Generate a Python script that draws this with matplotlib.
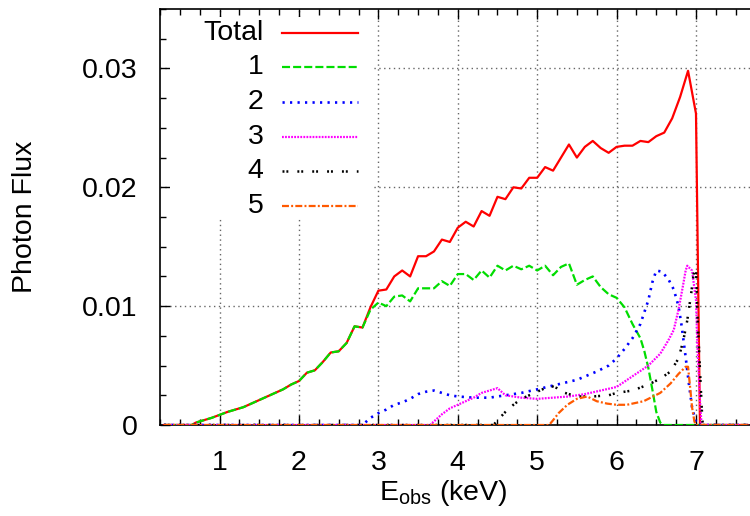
import matplotlib
matplotlib.use("Agg")
import matplotlib.pyplot as plt
from matplotlib.patches import Rectangle
from matplotlib.ticker import MultipleLocator

plt.rcParams['font.family'] = ['Liberation Sans', 'DejaVu Sans']
plt.rcParams['lines.scale_dashes'] = False

# energies (keV) and photon flux
x_low = [0.3, 0.65, 0.7, 0.8, 0.9, 1.0, 1.1, 1.2, 1.3, 1.4, 1.5, 1.6, 1.7, 1.8, 1.9,
         2.0, 2.1, 2.2, 2.3, 2.4, 2.5, 2.6, 2.7, 2.8]
y_low = [0, 0, 0.0002, 0.0004, 0.0006, 0.00085, 0.0011, 0.0013, 0.0015, 0.0018, 0.0021,
         0.0024, 0.0027, 0.0030, 0.0034, 0.0037, 0.0044, 0.0046, 0.0053, 0.0061, 0.0062,
         0.0069, 0.0083, 0.0082]

x_total = x_low + [2.9, 3.0, 3.1, 3.2, 3.3, 3.4, 3.5, 3.6, 3.7, 3.8, 3.9, 4.0, 4.1, 4.2,
                   4.3, 4.4, 4.5, 4.6, 4.7, 4.8, 4.9, 5.0, 5.1, 5.2, 5.3, 5.4, 5.5, 5.6,
                   5.7, 5.8, 5.9, 6.0, 6.1, 6.2, 6.3, 6.4, 6.5, 6.6, 6.7, 6.8, 6.9, 7.0,
                   7.05, 7.65]
y_total = y_low + [0.0099, 0.0113, 0.0114, 0.0125, 0.0130, 0.0125, 0.0142, 0.0142, 0.0146,
                   0.0156, 0.0154, 0.0166, 0.0171, 0.0167, 0.0180, 0.0176, 0.0192, 0.0190,
                   0.0200, 0.0199, 0.0208, 0.0208, 0.0217, 0.0214, 0.0225, 0.0236, 0.0225,
                   0.0234, 0.0239, 0.0233, 0.0229, 0.0234, 0.0235, 0.0235, 0.0239, 0.0238,
                   0.0243, 0.0246, 0.0258, 0.0276, 0.0298, 0.0262, 0, 0]

x_1 = x_low + [2.9, 3.0, 3.1, 3.2, 3.3, 3.4, 3.5, 3.6, 3.7, 3.8, 3.9, 4.0, 4.1, 4.2, 4.3,
               4.4, 4.5, 4.6, 4.7, 4.8, 4.9, 5.0, 5.1, 5.2, 5.3, 5.4, 5.5, 5.6, 5.7, 5.8,
               5.9, 6.0, 6.1, 6.2, 6.3, 6.35, 6.4, 6.45, 6.5, 6.55, 6.6, 7.65]
y_1 = y_low + [0.0097, 0.0103, 0.0100, 0.0108, 0.0109, 0.0104, 0.0115, 0.0115, 0.0115,
               0.0121, 0.0117, 0.0127, 0.0127, 0.0122, 0.0130, 0.0124, 0.0134, 0.0130,
               0.0134, 0.0131, 0.0134, 0.0130, 0.0134, 0.0126, 0.0133, 0.0136, 0.0118,
               0.0122, 0.0125, 0.0116, 0.0110, 0.0107, 0.0099, 0.0085, 0.0073, 0.0062,
               0.0048, 0.0030, 0.0011, 0.0002, 0, 0]

x_2 = [0.3, 2.8, 2.9, 3.0, 3.1, 3.2, 3.3, 3.4, 3.5, 3.6, 3.7, 3.8, 3.9, 4.0, 4.2, 4.4, 4.5,
       4.6, 4.8, 5.0, 5.25, 5.5, 5.75, 5.9, 6.0, 6.1, 6.2, 6.3, 6.4, 6.45, 6.5, 6.57, 6.65,
       6.72, 6.78, 6.82, 6.87, 6.91, 6.95, 7.0, 7.02, 7.65]
y_2 = [0, 0, 0.0006, 0.0010, 0.0013, 0.0017, 0.0019, 0.0022, 0.0026, 0.0028, 0.0029,
       0.0027, 0.0025, 0.0024, 0.0023, 0.0023, 0.0024, 0.0025, 0.0027, 0.0030, 0.0034,
       0.0038, 0.0045, 0.0050, 0.0056, 0.0064, 0.0073, 0.0085, 0.0105, 0.0120, 0.0130,
       0.0129, 0.0123, 0.0114, 0.0100, 0.0083, 0.0057, 0.0035, 0.0015, 0.0002, 0, 0]

x_3 = [0.3, 3.65, 3.7, 3.8, 3.9, 4.0, 4.1, 4.2, 4.3, 4.4, 4.5, 4.55, 4.6, 4.7, 4.8, 5.0,
       5.2, 5.4, 5.6, 5.8, 6.0, 6.2, 6.4, 6.55, 6.65, 6.72, 6.78, 6.83, 6.87, 6.89, 6.95,
       7.0, 7.02, 7.05, 7.07, 7.65]
y_3 = [0, 0, 0.0003, 0.0009, 0.0014, 0.0017, 0.0020, 0.0023, 0.0027, 0.0029, 0.0031,
       0.0028, 0.0025, 0.0024, 0.0023, 0.0022, 0.0023, 0.0024, 0.0026, 0.0029, 0.0032,
       0.0041, 0.0050, 0.0060, 0.0071, 0.0080, 0.0097, 0.0115, 0.0130, 0.0134, 0.0130,
       0.0105, 0.0063, 0.0021, 0, 0]

x_4 = [0.3, 4.45, 4.5, 4.6, 4.7, 4.8, 4.9, 5.0, 5.1, 5.17, 5.25, 5.35, 5.5, 5.7, 5.9, 6.0,
       6.2, 6.4, 6.55, 6.68, 6.78, 6.84, 6.89, 6.94, 6.97, 7.0, 7.02, 7.05, 7.08, 7.09, 7.65]
y_4 = [0, 0, 0.0004, 0.0011, 0.0017, 0.0022, 0.0025, 0.0028, 0.0031, 0.0033, 0.0031,
       0.0027, 0.0024, 0.0024, 0.0025, 0.0027, 0.0029, 0.0034, 0.0039, 0.0045, 0.0056,
       0.0071, 0.0088, 0.0111, 0.0127, 0.0132, 0.0091, 0.0046, 0.0004, 0, 0]

x_5 = [0.3, 5.15, 5.2, 5.27, 5.38, 5.5, 5.63, 5.75, 5.88, 6.0, 6.13, 6.34, 6.55, 6.68,
       6.78, 6.87, 6.9, 6.93, 6.95, 6.98, 7.0, 7.65]
y_5 = [0, 0, 0.0004, 0.0010, 0.0017, 0.0022, 0.0024, 0.0020, 0.0018, 0.0017, 0.0017,
       0.0020, 0.0027, 0.0035, 0.0043, 0.0049, 0.0049, 0.0029, 0.0015, 0.0003, 0, 0]

labels = ['Total', '1', '2', '3', '4', '5']
colors = ['#ff0000', '#00dd00', '#0000ff', '#ff00ff', '#000000', '#ff5a00']
styles = ['-', (0, (5.8, 2.2)), (0, (1.6, 3.8)), (0, (1.3, 0.9)),
          (0, (1.4, 1.4, 1.4, 6.5)), (0, (5, 1.6, 1.4, 1.6))]
widths = [1.6, 1.6, 1.9, 1.6, 1.8, 1.6]
xs = [x_total, x_1, x_2, x_3, x_4, x_5]
ys = [y_total, y_1, y_2, y_3, y_4, y_5]

fig = plt.figure(figsize=(7.5, 5.16), dpi=100)
ax = fig.add_axes([160 / 750, 91 / 516, 615.4 / 750, 416 / 516])
ax.set_axisbelow(True)

# total first, components drawn over it (as gnuplot does)
for i in range(6):
    ax.plot(xs[i], ys[i], color=colors[i], linestyle=styles[i], lw=widths[i], zorder=3)

ax.set_xlim(0.25, 8)
ax.set_ylim(0, 0.035)
ax.set_xticks([1, 2, 3, 4, 5, 6, 7])
ax.set_yticks([0, 0.01, 0.02, 0.03])
ax.set_yticklabels(['0', '0.01', '0.02', '0.03'])
ax.xaxis.set_minor_locator(MultipleLocator(0.25))
ax.yaxis.set_minor_locator(MultipleLocator(0.0025))
ax.tick_params(which='both', direction='in', top=True, right=True, width=1)
ax.tick_params(which='major', length=7, labelsize=20.5)
ax.tick_params(which='minor', length=4)
ax.tick_params(axis='x', which='major', pad=18)
ax.tick_params(axis='y', which='major', pad=16)
ax.grid(True, which='major', color='#666666', linestyle=(0, (1, 2.5)), lw=1)
for s in ax.spines.values():
    s.set_linewidth(1.2)

ax.set_ylabel('Photon Flux', fontsize=20.5)
ax.yaxis.set_label_coords(-0.198, 0.5)
ax.set_xlabel(r'E$_{\mathregular{obs}}$ (keV)', fontsize=20.5)
ax.xaxis.set_label_coords(0.46, -0.128)

# gnuplot style key: opaque box, labels right-aligned, samples on the right
ax.add_patch(Rectangle((0.016, 0.5), 0.33, 0.48, transform=ax.transAxes,
                       facecolor='white', edgecolor='none', zorder=1))
for i, lab in enumerate(labels):
    yy = 0.943 - i * 0.0834
    ax.text(0.168, yy, lab, transform=ax.transAxes, ha='right', va='center',
            fontsize=20.5, zorder=4)
    ax.plot([0.198, 0.321], [yy, yy], transform=ax.transAxes, color=colors[i],
            linestyle=styles[i], lw=widths[i], zorder=4)

fig.savefig('out.png', dpi=100)
